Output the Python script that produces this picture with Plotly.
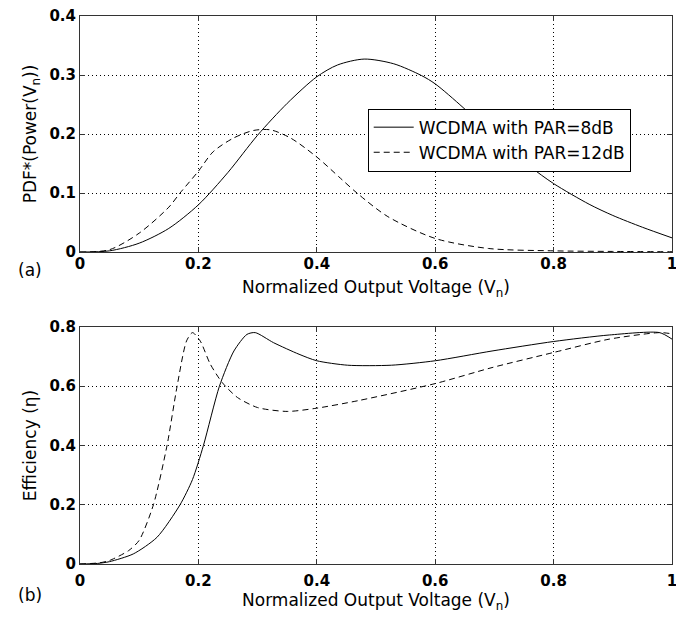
import plotly.graph_objects as go
from plotly.subplots import make_subplots

# ---- data ----
pdf_x_8db = [0, 0.05, 0.1, 0.15, 0.2, 0.25, 0.3, 0.35, 0.4, 0.435, 0.48, 0.53, 0.577,
             0.6, 0.647, 0.7, 0.76, 0.8, 0.86, 0.9, 0.95, 1.0]
pdf_y_8db = [0, 0.002, 0.015, 0.04, 0.08, 0.135, 0.198, 0.252, 0.297, 0.317, 0.327, 0.319,
             0.299, 0.285, 0.245, 0.195, 0.145, 0.116, 0.081, 0.062, 0.042, 0.024]

pdf_x_12db = [0, 0.05, 0.1, 0.15, 0.169, 0.2, 0.225, 0.259, 0.293, 0.322, 0.356, 0.4,
              0.44, 0.469, 0.52, 0.6, 0.69, 0.8, 0.9, 1.0]
pdf_y_12db = [0, 0.004, 0.032, 0.076, 0.1, 0.137, 0.17, 0.193, 0.206, 0.207, 0.193, 0.161,
              0.125, 0.099, 0.06, 0.023, 0.006, 0.002, 0.001, 0.0005]

eff_x_8db = [0, 0.03, 0.05, 0.09, 0.13, 0.169, 0.19, 0.2085, 0.2355, 0.26, 0.282,
             0.296, 0.327, 0.37, 0.4, 0.452, 0.526, 0.6, 0.696, 0.8, 0.894, 0.979, 1.0]
eff_y_8db = [0, 0.002, 0.008, 0.034, 0.09, 0.2, 0.285, 0.4, 0.6, 0.719, 0.775,
             0.781, 0.747, 0.708, 0.686, 0.671, 0.671, 0.686, 0.719, 0.751, 0.773, 0.781, 0.759]

eff_x_12db = [0, 0.033, 0.05, 0.082, 0.1, 0.124, 0.147, 0.164, 0.18, 0.19, 0.203, 0.22, 0.24,
              0.266, 0.3, 0.35, 0.4, 0.469, 0.6, 0.696, 0.8, 0.894, 0.979, 1.0]
eff_y_12db = [0, 0.004, 0.012, 0.045, 0.08, 0.2, 0.4, 0.6, 0.753, 0.781, 0.753, 0.675,
              0.613, 0.562, 0.528, 0.515, 0.526, 0.551, 0.609, 0.663, 0.714, 0.759, 0.781, 0.777]

x_ticks = [0, 0.2, 0.4, 0.6, 0.8, 1]
x_tick_text = ["0", "0.2", "0.4", "0.6", "0.8", "1"]
pdf_ticks = [0, 0.1, 0.2, 0.3, 0.4]
pdf_tick_text = ["0", "0.1", "0.2", "0.3", "0.4"]
eff_ticks = [0, 0.2, 0.4, 0.6, 0.8]
eff_tick_text = ["0", "0.2", "0.4", "0.6", "0.8"]

name_8db = "WCDMA with PAR=8dB"
name_12db = "WCDMA with PAR=12dB"

# ---- figure ----
fig = make_subplots(rows=2, cols=1, shared_xaxes=False, vertical_spacing=0.1)

solid = dict(color="black", width=1)
dashed = dict(color="black", width=1, dash="6px,4px")

fig.add_trace(go.Scatter(x=pdf_x_8db, y=pdf_y_8db, mode="lines", name=name_8db,
                         line=dict(**solid, shape="spline", smoothing=0.8)), row=1, col=1)
fig.add_trace(go.Scatter(x=pdf_x_12db, y=pdf_y_12db, mode="lines", name=name_12db,
                         line=dict(**dashed, shape="spline", smoothing=0.8)), row=1, col=1)
fig.add_trace(go.Scatter(x=eff_x_8db, y=eff_y_8db, mode="lines", showlegend=False,
                         line=dict(**solid, shape="spline", smoothing=0.7)), row=2, col=1)
fig.add_trace(go.Scatter(x=eff_x_12db, y=eff_y_12db, mode="lines", showlegend=False,
                         line=dict(**dashed, shape="spline", smoothing=0.7)), row=2, col=1)

tickfont = dict(family="DejaVu Sans", size=15, color="black", weight="bold")
titlefont = dict(family="DejaVu Sans", size=17, color="black")

common_axis = dict(showline=True, linecolor="#333333", linewidth=1, mirror="ticks",
                   ticks="inside", ticklen=5, tickcolor="#333333",
                   showgrid=True, gridcolor="black", gridwidth=1, griddash="1px,3px",
                   zeroline=False, tickfont=tickfont, automargin=False,
                   ticklabeloverflow="allow")

xtitle = "Normalized Output Voltage (V<sub>n</sub>)"

fig.update_xaxes(common_axis, range=[0, 1], tickvals=x_ticks, ticktext=x_tick_text)
fig.update_xaxes(ticklabelstandoff=-2,
                 title=dict(text=xtitle, font=titlefont, standoff=9), row=1, col=1)
fig.update_xaxes(ticklabelstandoff=3,
                 title=dict(text=xtitle, font=titlefont, standoff=5), row=2, col=1)

fig.update_yaxes(common_axis)
fig.update_yaxes(range=[0, 0.4], tickvals=pdf_ticks, ticktext=pdf_tick_text,
                 title=dict(text="PDF*(Power(V<sub>n</sub>))", font=titlefont, standoff=8),
                 row=1, col=1)
fig.update_yaxes(range=[0, 0.8], tickvals=eff_ticks, ticktext=eff_tick_text,
                 title=dict(text="Efficiency (\u03b7)", font=titlefont, standoff=8),
                 row=2, col=1)

# The page body has an 8px default margin, so the figure is drawn 8px in from
# the top-left corner; the size and margins below compensate for that.
fig.update_layout(
    width=676, height=611,
    margin=dict(l=72, r=12, t=8, b=55),
    paper_bgcolor="white", plot_bgcolor="white",
    xaxis=dict(domain=[0, 1]), xaxis2=dict(domain=[0, 1]),
    yaxis=dict(domain=[0.5693, 1.0]), yaxis2=dict(domain=[0.0, 0.4325]),
    showlegend=True,
    legend=dict(x=0.486, y=0.831, xanchor="left", yanchor="top",
                xref="paper", yref="paper",
                bgcolor="white", bordercolor="black", borderwidth=1,
                font=dict(family="DejaVu Sans", size=17, color="black"),
                tracegroupgap=0, itemwidth=40),
    annotations=[
        dict(text="(a)", x=-0.0845, y=0.5365, xref="paper", yref="paper",
             xanchor="center", yanchor="middle", showarrow=False,
             font=dict(family="DejaVu Sans", size=17, color="black")),
        dict(text="(b)", x=-0.0845, y=-0.0566, xref="paper", yref="paper",
             xanchor="center", yanchor="middle", showarrow=False,
             font=dict(family="DejaVu Sans", size=17, color="black")),
    ],
)

fig.write_html("out.html")
